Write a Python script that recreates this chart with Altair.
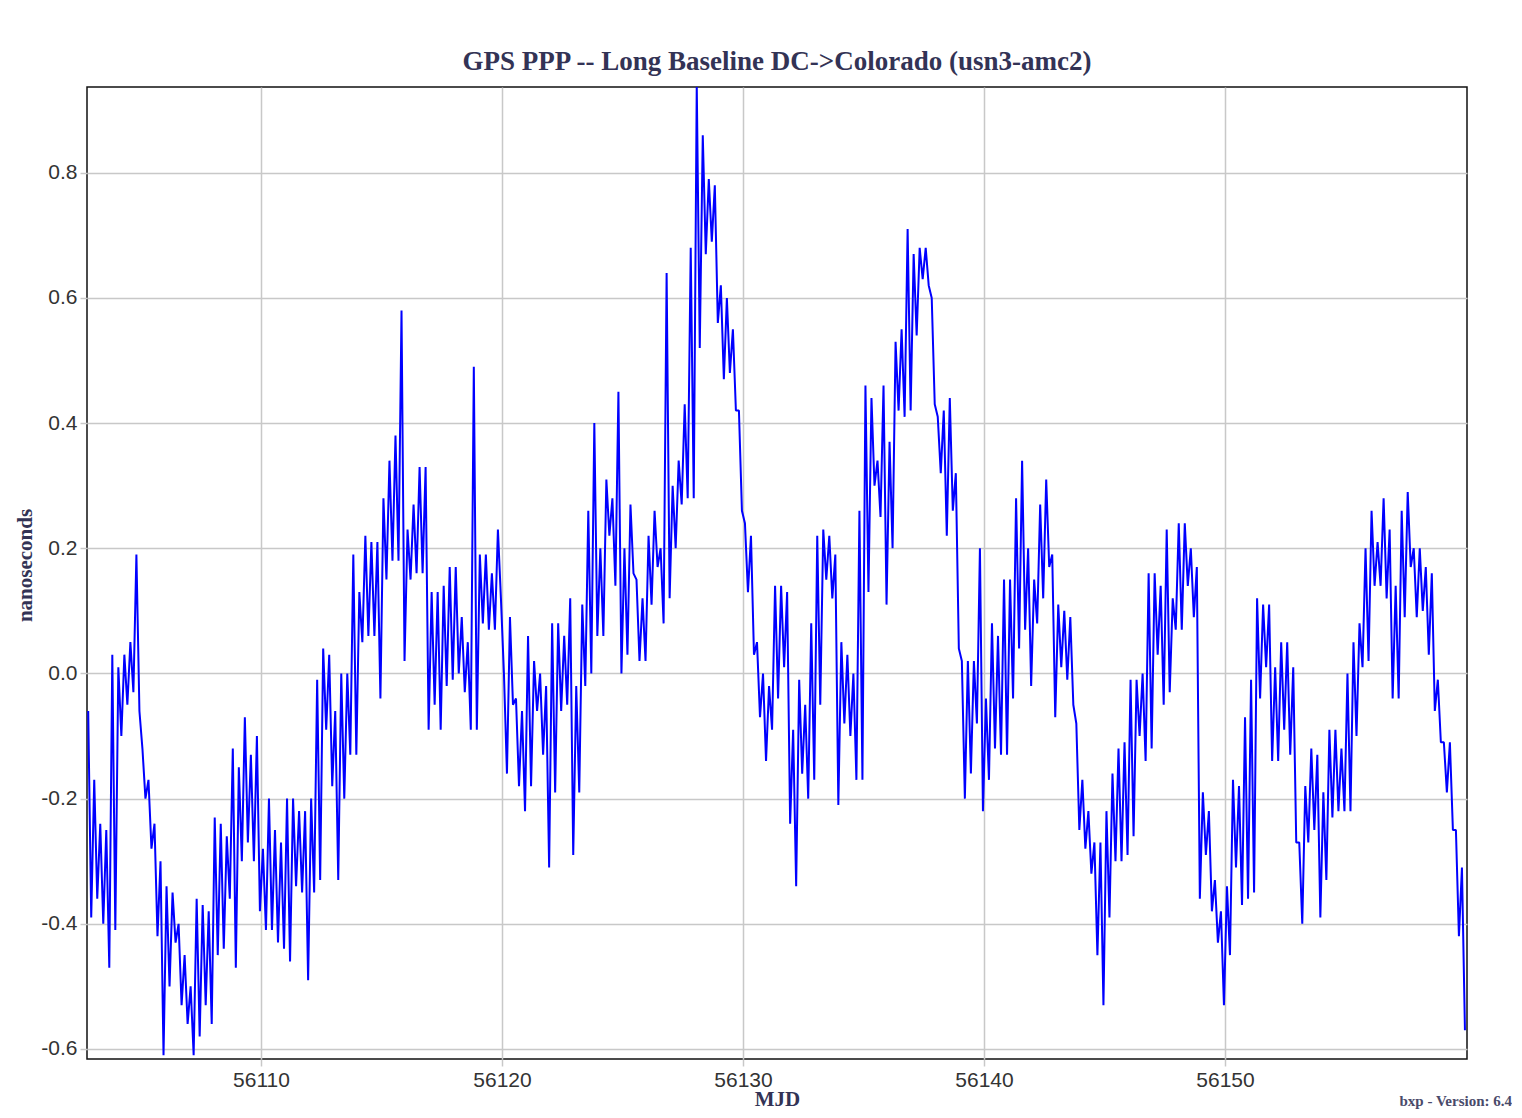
import altair as alt
import pandas as pd

TITLE = "GPS PPP -- Long Baseline DC->Colorado (usn3-amc2)"
FOOTER = "bxp - Version: 6.4"

# sampling: one high/low pair of readings per quarter day
START_MJD = 56102.8
STEP_DAYS = 0.25

hi = [
    -0.06, -0.17, -0.24, -0.25, 0.03, 0.01, 0.03, 0.05, 0.19, -0.12,
    -0.17, -0.24, -0.30, -0.34, -0.35, -0.40, -0.45, -0.50, -0.36, -0.37,
    -0.38, -0.23, -0.24, -0.26, -0.12, -0.15, -0.07, -0.13, -0.10, -0.28,
    -0.20, -0.25, -0.27, -0.20, -0.20, -0.22, -0.22, -0.20, -0.01, 0.04,
    0.03, -0.06, 0.00, 0.00, 0.19, 0.13, 0.22, 0.21, 0.21, 0.28,
    0.34, 0.38, 0.58, 0.23, 0.27, 0.33, 0.33, 0.13, 0.13, 0.14,
    0.17, 0.17, 0.09, 0.05, 0.49, 0.19, 0.19, 0.16, 0.23, 0.00,
    0.09, -0.04, -0.06, 0.06, 0.02, 0.00, -0.02, 0.08,
    0.08, 0.06, 0.12, -0.02, 0.11, 0.26, 0.40, 0.20, 0.31, 0.28,
    0.45, 0.20, 0.27, 0.15, 0.12, 0.22, 0.26, 0.20, 0.64, 0.30,
    0.34, 0.43, 0.68, 0.94, 0.86, 0.79, 0.78, 0.62, 0.60, 0.55,
    0.42, 0.24, 0.22, 0.05, 0.00, -0.02, 0.14, 0.14,
    0.13, -0.09, -0.01, -0.05, 0.08, 0.22, 0.23, 0.22, 0.19, 0.05,
    0.03, 0.00, 0.26, 0.46, 0.44, 0.34, 0.46, 0.37, 0.53, 0.55,
    0.71, 0.67, 0.68, 0.68, 0.60, 0.41, 0.42, 0.44, 0.32, 0.02,
    0.02, 0.02, 0.20, -0.04, 0.08, 0.06, 0.15, 0.15, 0.28,
    0.34, 0.20, 0.15, 0.27, 0.31, 0.19, 0.11, 0.10, 0.09, -0.08,
    -0.17, -0.22, -0.27, -0.27, -0.22, -0.16, -0.12, -0.11, -0.01, -0.01,
    0.00, 0.16, 0.16, 0.14, 0.23, 0.12, 0.24, 0.24, 0.20, 0.17,
    -0.19, -0.22, -0.33, -0.38, -0.34, -0.17, -0.18, -0.07,
    -0.01, 0.12, 0.11, 0.11, 0.01, 0.05, 0.05, 0.01, -0.27, -0.18,
    -0.12, -0.13, -0.19, -0.09, -0.09, -0.12, 0.00, 0.05, 0.08, 0.20,
    0.26, 0.21, 0.28, 0.23, 0.14, 0.26, 0.29, 0.20, 0.20, 0.17,
    0.16, -0.01, -0.11, -0.11, -0.25, -0.31,
]

lo = [
    -0.39, -0.36, -0.40, -0.47, -0.41, -0.10, -0.05, -0.03, -0.06, -0.20,
    -0.28, -0.42, -0.61, -0.50, -0.43, -0.53, -0.56, -0.61, -0.58, -0.53,
    -0.56, -0.45, -0.44, -0.36, -0.47, -0.30, -0.27, -0.30, -0.38, -0.41,
    -0.41, -0.43, -0.44, -0.46, -0.34, -0.35, -0.49, -0.35, -0.33, -0.09,
    -0.18, -0.33, -0.20, -0.13, -0.13, 0.05, 0.06, 0.06, -0.04, 0.15,
    0.18, 0.18, 0.02, 0.15, 0.16, 0.16, -0.09, -0.05, -0.09, -0.02,
    -0.01, 0.00, -0.03, -0.09, -0.09, 0.08, 0.07, 0.07, 0.12, -0.16,
    -0.05, -0.18, -0.22, -0.18, -0.06, -0.13, -0.31, -0.19,
    -0.06, -0.05, -0.29, -0.19, -0.02, 0.00, 0.06, 0.06, 0.22, 0.14,
    0.00, 0.03, 0.16, 0.02, 0.02, 0.11, 0.17, 0.08, 0.12, 0.20,
    0.27, 0.28, 0.28, 0.52, 0.67, 0.69, 0.56, 0.47, 0.48, 0.42,
    0.26, 0.13, 0.03, -0.07, -0.14, -0.09, -0.04, 0.01,
    -0.24, -0.34, -0.16, -0.20, -0.17, -0.05, 0.15, 0.12, -0.21, -0.08,
    -0.10, -0.17, -0.17, 0.13, 0.30, 0.25, 0.11, 0.20, 0.42, 0.41,
    0.42, 0.54, 0.63, 0.62, 0.43, 0.32, 0.22, 0.26, 0.04, -0.20,
    -0.16, -0.08, -0.22, -0.17, -0.12, -0.13, -0.13, -0.04, 0.04,
    0.07, -0.02, 0.08, 0.12, 0.17, -0.07, 0.01, -0.01, -0.05, -0.25,
    -0.28, -0.32, -0.45, -0.53, -0.39, -0.30, -0.30, -0.29, -0.26, -0.10,
    -0.14, -0.12, 0.03, -0.05, -0.03, 0.07, 0.07, 0.14, 0.09, -0.36,
    -0.29, -0.38, -0.43, -0.53, -0.45, -0.31, -0.37, -0.36,
    -0.35, -0.04, 0.01, -0.14, -0.14, -0.09, -0.13, -0.27, -0.40, -0.27,
    -0.25, -0.39, -0.33, -0.23, -0.22, -0.22, -0.22, -0.10, 0.01, 0.02,
    0.14, 0.14, 0.12, -0.04, -0.04, 0.09, 0.17, 0.09, 0.10, 0.03,
    -0.06, -0.11, -0.19, -0.25, -0.42, -0.57,
]

x_ticks = [56110, 56120, 56130, 56140, 56150]
y_ticks = [-0.6, -0.4, -0.2, 0.0, 0.2, 0.4, 0.6, 0.8]
x_domain = [56102.78, 56160.04]
y_domain = [-0.616, 0.937]

rows = []
for k, (h, l) in enumerate(zip(hi, lo)):
    t = START_MJD + STEP_DAYS * k
    rows.append({"mjd": t + 0.03, "ns": h, "i": 2 * k})
    rows.append({"mjd": t + 0.155, "ns": l, "i": 2 * k + 1})
df = pd.DataFrame(rows)

W, H = 1380, 972
SERIF = "Liberation Serif"
SANS = "Liberation Sans"
NAVY = "#333355"

line = alt.Chart(df).mark_line(
    color="#0000ff", strokeWidth=2, strokeJoin="bevel", clip=True
).encode(
    x=alt.X(
        "mjd:Q",
        scale=alt.Scale(domain=x_domain, nice=False, zero=False),
        axis=alt.Axis(
            values=x_ticks, format="d", title="MJD",
            titleBaseline="alphabetic", titleY=46,
        ),
    ),
    y=alt.Y(
        "ns:Q",
        scale=alt.Scale(domain=y_domain, nice=False, zero=False),
        axis=alt.Axis(
            values=y_ticks,
            labelExpr="(datum.value < 0 ? '-' : '') + format(abs(datum.value), '.1f')",
            title="nanoseconds", titleBaseline="alphabetic",
            titleX=-56, titleY=478, titleAngle=-90,
        ),
    ),
    order="i:Q",
)

footer = alt.Chart(pd.DataFrame({"t": [FOOTER]})).mark_text(
    align="right", baseline="alphabetic", font=SERIF, fontWeight="bold",
    fontSize=15, color="#4a4a6a", clip=False,
).encode(text="t:N", x=alt.value(W + 45), y=alt.value(H + 47))

chart = (
    alt.layer(line, footer)
    .properties(
        width=W, height=H,
        title=alt.TitleParams(
            TITLE, font=SERIF, fontSize=27, fontWeight="bold", color=NAVY,
            anchor="middle", offset=11,
        ),
        padding={"left": 79, "top": 79, "right": 45, "bottom": 51},
        autosize=alt.AutoSizeParams(type="none"),
        background="white",
    )
    .configure_view(stroke="#111111", strokeWidth=1.5)
    .configure_axis(
        domain=False,
        grid=True, gridColor="#c8c8c8", gridWidth=1.5,
        ticks=True, tickColor="#c8c8c8", tickWidth=1.5, tickSize=7,
        labelFont=SANS, labelFontSize=21, labelColor="#333333", labelPadding=3,
        titleFont=SERIF, titleFontSize=21, titleFontWeight="bold", titleColor=NAVY,
    )
)

chart.save("out.html", embed_options={"renderer": "svg", "actions": False})
